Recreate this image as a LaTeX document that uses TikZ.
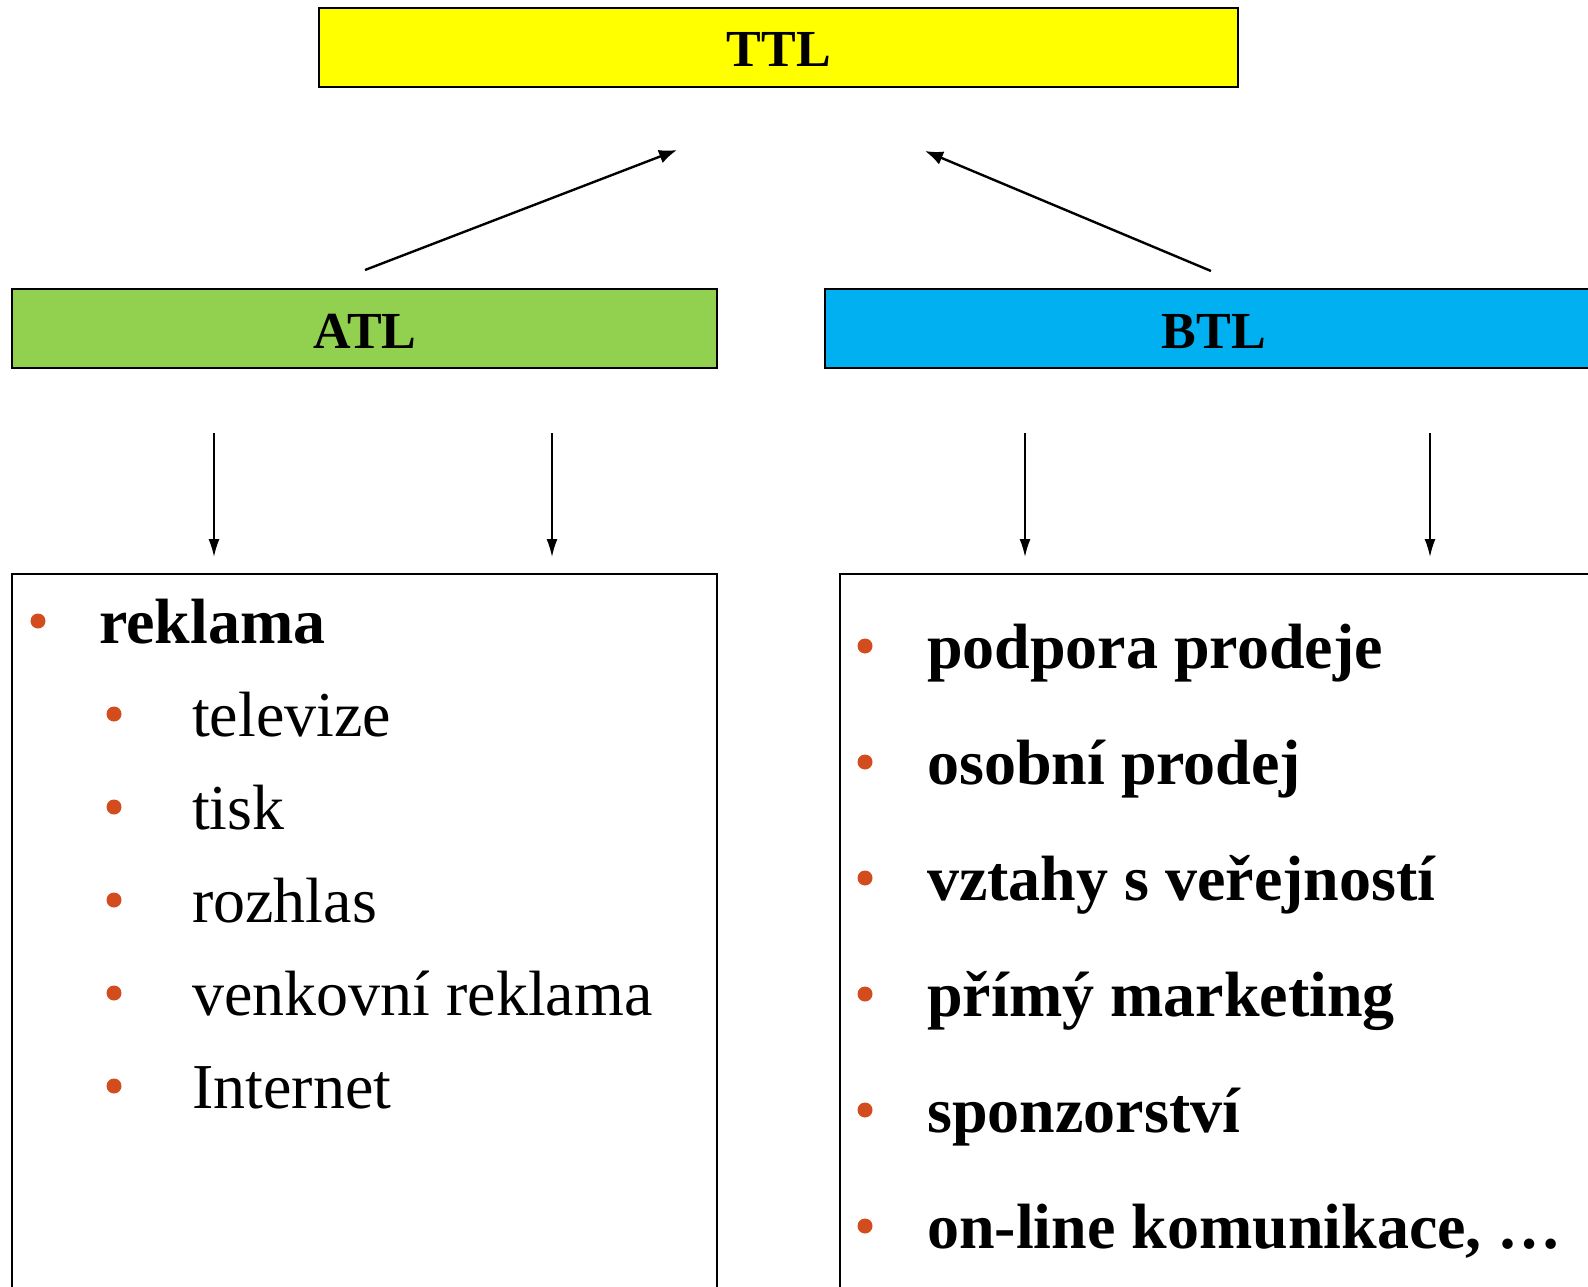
\documentclass[tikz,border=0pt]{standalone}
\usepackage{fontspec}
\setmainfont{Liberation Serif}
\usetikzlibrary{arrows.meta}
\definecolor{ttlyellow}{RGB}{255,255,0}
\definecolor{atlgreen}{RGB}{146,208,80}
\definecolor{btlblue}{RGB}{0,176,240}
\definecolor{bulletred}{RGB}{210,76,30}
\tikzset{
  hdrbox/.style={draw=black, line width=1.5pt, inner sep=0pt, font=\fontsize{52}{52}\selectfont\bfseries},
  listbox/.style={draw=black, line width=1.5pt},
  itemtext/.style={anchor=base west, inner sep=0pt, font=\fontsize{64}{64}\selectfont},
  bolditem/.style={itemtext, font=\fontsize{64}{64}\selectfont\bfseries},
  bulletdot/.style={circle, fill=bulletred, inner sep=0pt, minimum size=15pt},
  uparrow/.style={line width=2.4pt, -{Latex[length=18pt,width=14pt]}},
  downarrow/.style={line width=1.8pt, -{Latex[length=18pt,width=11pt]}}
}
\begin{document}
\begin{tikzpicture}[x=1pt,y=-1pt]
\useasboundingbox (0,0) rectangle (1588,1287);
\clip (0,0) rectangle (1588,1287);
% header boxes
\node[hdrbox, fill=ttlyellow, minimum width=919pt, minimum height=79pt] (ttl) at (778.5,47.5) {};
\node[anchor=base, inner sep=0pt, font=\fontsize{52}{52}\selectfont\bfseries] (ttltext) at (779,67) {TTL};
\node[hdrbox, fill=atlgreen, minimum width=705pt, minimum height=79pt] (atl) at (364.5,328.5) {};
\node[anchor=base, inner sep=0pt, font=\fontsize{52}{52}\selectfont\bfseries] (atltext) at (365,348) {ATL};
\node[hdrbox, fill=btlblue, minimum width=776pt, minimum height=79pt] (btl) at (1213,328.5) {};
\node[anchor=base, inner sep=0pt, font=\fontsize{52}{52}\selectfont\bfseries] (btltext) at (1214,348) {BTL};
% list boxes
\draw[listbox] (12,1300) -- (12,574) -- (717,574) -- (717,1300);
\draw[listbox] (840,1300) -- (840,574) -- (1600,574);
% arrows up to TTL
\coordinate (atlstart) at (365,270);
\coordinate (ttlin1) at (677,150);
\coordinate (btlstart) at (1211,271);
\coordinate (ttlin2) at (925,151);
\draw[uparrow] (atlstart) -- (ttlin1);
\draw[uparrow] (btlstart) -- (ttlin2);
% arrows down
\coordinate (d1s) at (214,433); \coordinate (d1e) at (214,557);
\coordinate (d2s) at (552,433); \coordinate (d2e) at (552,557);
\coordinate (d3s) at (1025,433); \coordinate (d3e) at (1025,557);
\coordinate (d4s) at (1430,433); \coordinate (d4e) at (1430,557);
\draw[downarrow] (d1s) -- (d1e);
\draw[downarrow] (d2s) -- (d2e);
\draw[downarrow] (d3s) -- (d3e);
\draw[downarrow] (d4s) -- (d4e);
% left list
\node[bulletdot] (lb0) at (38,621) {};
\node[bolditem] (l0) at (99,643) {reklama};
\node[bulletdot] (lb1) at (114,714) {};
\node[itemtext] (l1) at (192,736) {televize};
\node[bulletdot] (lb2) at (114,807) {};
\node[itemtext] (l2) at (192,829) {tisk};
\node[bulletdot] (lb3) at (114,900) {};
\node[itemtext] (l3) at (192,922) {rozhlas};
\node[bulletdot] (lb4) at (114,993) {};
\node[itemtext] (l4) at (192,1015) {venkovní reklama};
\node[bulletdot] (lb5) at (114,1086) {};
\node[itemtext] (l5) at (192,1108) {Internet};
% right list
\node[bulletdot] (rb0) at (865,646) {};
\node[bolditem] (r0) at (927,668) {podpora prodeje};
\node[bulletdot] (rb1) at (865,762) {};
\node[bolditem] (r1) at (927,784) {osobní prodej};
\node[bulletdot] (rb2) at (865,878) {};
\node[bolditem] (r2) at (927,900) {vztahy s veřejností};
\node[bulletdot] (rb3) at (865,994) {};
\node[bolditem] (r3) at (927,1016) {přímý marketing};
\node[bulletdot] (rb4) at (865,1110) {};
\node[bolditem] (r4) at (927,1132) {sponzorství};
\node[bulletdot] (rb5) at (865,1226) {};
\node[bolditem] (r5) at (927,1248) {on-line komunikace, …};
\end{tikzpicture}
\end{document}
